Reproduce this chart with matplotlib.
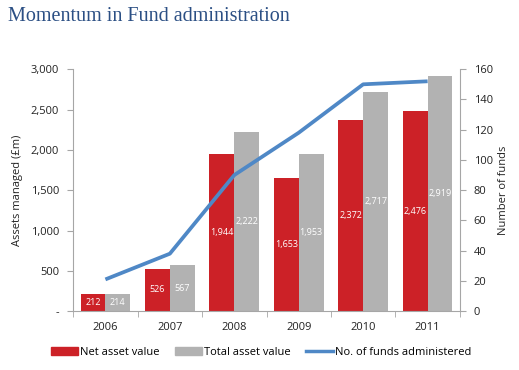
import matplotlib
matplotlib.use("Agg")
import matplotlib.pyplot as plt
import numpy as np
from matplotlib.patches import Patch
from matplotlib.lines import Line2D

years = ["2006", "2007", "2008", "2009", "2010", "2011"]
net_asset = [212, 526, 1944, 1653, 2372, 2476]
total_asset = [214, 567, 2222, 1953, 2717, 2919]
num_funds = [21, 38, 90, 118, 150, 152]

red = "#cc2127"
grey = "#b2b2b2"
blue = "#4f88c6"
spine_c = "#a6a6a6"
font = "Open Sans"

fig = plt.figure(figsize=(5.19, 3.70), dpi=100)
ax = fig.add_axes([0.141, 0.159, 0.745, 0.654])
x = np.arange(len(years))
w = 0.385
b1 = ax.bar(x - w / 2, net_asset, w, color=red, zorder=2)
b2 = ax.bar(x + w / 2, total_asset, w, color=grey, zorder=2)
for rect, v in zip(b1, net_asset):
    ax.text(rect.get_x() + rect.get_width() / 2, v / 2, f"{v:,}", ha="center", va="center",
            color="white", fontsize=6.5, family=font, zorder=5)
for rect, v in zip(b2, total_asset):
    ax.text(rect.get_x() + rect.get_width() / 2, v / 2, f"{v:,}", ha="center", va="center",
            color="white", fontsize=6.5, family=font, zorder=5)

ax.set_xlim(-0.5, len(years) - 0.5)
ax.set_ylim(0, 3000)
ax.set_yticks([0, 500, 1000, 1500, 2000, 2500, 3000])
ax.set_yticklabels(["-", "500", "1,000", "1,500", "2,000", "2,500", "3,000"])
ax.set_xticks(x)
ax.set_xticklabels(years)
ax.set_xticks(np.arange(-0.5, len(years), 1), minor=True)
ax.tick_params(axis="x", which="major", length=0, pad=8)
ax.tick_params(axis="x", which="minor", length=4, color=spine_c, direction="out")
ax.tick_params(axis="y", length=4, color=spine_c, direction="out", pad=6)
for lab in ax.get_xticklabels() + ax.get_yticklabels():
    lab.set_fontfamily(font)
    lab.set_fontsize(8)
    lab.set_color("#222222")
ax.set_ylabel("Assets managed (£m)", fontsize=8, family=font, color="#222222", labelpad=6)
for s in ["top", "right"]:
    ax.spines[s].set_visible(False)
for s in ["left", "bottom"]:
    ax.spines[s].set_color(spine_c)

ax2 = ax.twinx()
ax2.plot(x, num_funds, color=blue, lw=2.7, zorder=3, solid_capstyle="butt")
ax2.set_ylim(0, 160)
ax2.set_yticks(range(0, 161, 20))
ax2.tick_params(axis="y", length=4, color=spine_c, direction="out", pad=6)
for lab in ax2.get_yticklabels():
    lab.set_fontfamily(font)
    lab.set_fontsize(8)
    lab.set_color("#222222")
ax2.set_ylabel("Number of funds", fontsize=8, family=font, color="#222222", labelpad=4)
for s in ["top", "left", "bottom"]:
    ax2.spines[s].set_visible(False)
ax2.spines["right"].set_color(spine_c)

handles = [Patch(color=red), Patch(color=grey), Line2D([0], [0], color=blue, lw=2.5)]
labels = ["Net asset value", "Total asset value", "No. of funds administered"]
fig.legend(handles, labels, loc="center", bbox_to_anchor=(0.503, 0.048), ncol=3, frameon=False,
           prop={"family": font, "size": 8}, handlelength=2.4, handletextpad=0.2, columnspacing=1.4)

fig.text(0.015, 0.955, "Momentum in Fund administration", fontsize=14.5, family="Liberation Serif",
         color="#2b4f84", ha="left", va="center")

fig.savefig("out.png", dpi=100)
